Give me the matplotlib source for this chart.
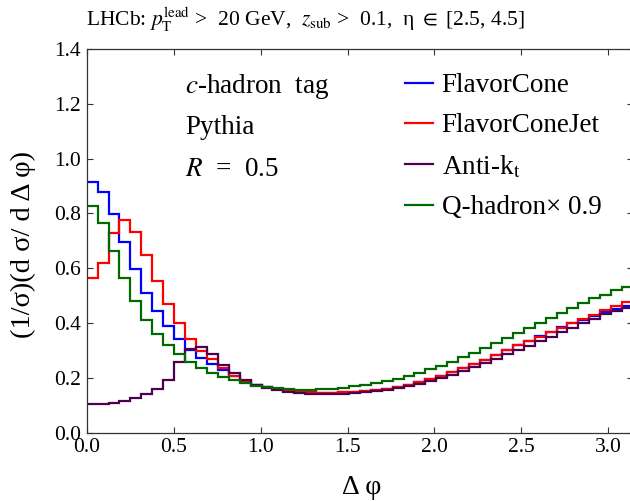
import numpy as np
import matplotlib
matplotlib.use("Agg")
import matplotlib.pyplot as plt

# 50 bins in delta phi from 0 to pi
n_bins = 50
edges = np.linspace(0, np.pi, n_bins + 1)

flavor_cone = [0.915, 0.879, 0.799, 0.697, 0.597, 0.509, 0.442, 0.388, 0.341, 0.302,
               0.272, 0.249, 0.227, 0.206, 0.188, 0.175, 0.165, 0.159, 0.153, 0.149,
               0.146, 0.145, 0.145, 0.146, 0.148, 0.151, 0.155, 0.160, 0.166, 0.175,
               0.185, 0.196, 0.208, 0.221, 0.235, 0.250, 0.266, 0.284, 0.302, 0.319,
               0.335, 0.351, 0.368, 0.384, 0.398, 0.412, 0.426, 0.440, 0.452, 0.463]

flavor_cone_jet = [0.563, 0.620, 0.727, 0.776, 0.732, 0.648, 0.554, 0.469, 0.400, 0.340,
                   0.298, 0.268, 0.234, 0.208, 0.188, 0.175, 0.166, 0.159, 0.153, 0.149,
                   0.146, 0.145, 0.145, 0.146, 0.148, 0.151, 0.155, 0.160, 0.166, 0.174,
                   0.184, 0.195, 0.207, 0.220, 0.234, 0.249, 0.266, 0.284, 0.301, 0.319,
                   0.334, 0.350, 0.367, 0.383, 0.398, 0.413, 0.430, 0.446, 0.462, 0.477]

anti_kt = [0.103, 0.105, 0.109, 0.116, 0.126, 0.140, 0.160, 0.193, 0.258, 0.304,
           0.313, 0.288, 0.248, 0.217, 0.190, 0.175, 0.164, 0.155, 0.148, 0.144,
           0.141, 0.140, 0.140, 0.141, 0.143, 0.146, 0.150, 0.155, 0.161, 0.168,
           0.177, 0.187, 0.198, 0.211, 0.225, 0.240, 0.255, 0.270, 0.286, 0.301,
           0.317, 0.334, 0.350, 0.368, 0.383, 0.398, 0.414, 0.431, 0.443, 0.456]

q_hadron = [0.827, 0.763, 0.664, 0.563, 0.481, 0.411, 0.359, 0.321, 0.288, 0.259,
            0.234, 0.218, 0.203, 0.191, 0.180, 0.171, 0.165, 0.163, 0.159, 0.156,
            0.156, 0.157, 0.160, 0.164, 0.168, 0.175, 0.182, 0.189, 0.196, 0.205,
            0.217, 0.230, 0.244, 0.259, 0.275, 0.291, 0.308, 0.325, 0.344, 0.362,
            0.380, 0.398, 0.417, 0.435, 0.453, 0.471, 0.490, 0.502, 0.520, 0.532]

labels = ["FlavorCone", "FlavorConeJet", "Anti-k$_{\\mathrm{t}}$", "Q-hadron× 0.9"]
colors = ["#0000ff", "#ff0000", "#4d0050", "#006a00"]

plt.rcParams['font.family'] = ['Liberation Serif', 'DejaVu Serif']
plt.rcParams['mathtext.fontset'] = 'stix'

W, H = 630, 501
fig = plt.figure(figsize=(W / 100, H / 100), dpi=100)

# axes box in pixels: left 86.7, right 633 (slightly past the edge), top 48.9, bottom 432.5
ax = fig.add_axes([86.7 / W, (H - 432.5) / H, (633 - 86.7) / W, (432.5 - 48.9) / H])

for series, lab, col in zip([flavor_cone, flavor_cone_jet, anti_kt, q_hadron], labels, colors):
    ax.stairs(series, edges, baseline=None, color=col, lw=1.6, label=lab)

ax.set_xlim(0, np.pi)
ax.set_ylim(0, 1.4)
ax.set_xticks(np.arange(0, 3.01, 0.5))
ax.set_yticks(np.arange(0, 1.41, 0.2))
ax.set_xticklabels([f"{v:.1f}" for v in np.arange(0, 3.01, 0.5)])
ax.set_yticklabels([f"{v:.1f}" for v in np.arange(0, 1.41, 0.2)])
ax.tick_params(direction='in', top=True, right=True, length=4, width=0.8,
               labelsize=15.5, color='#333333')
ax.tick_params(axis='x', pad=4)
ax.tick_params(axis='y', pad=4)
for s in ax.spines.values():
    s.set_linewidth(0.9)
    s.set_color('#333333')

ax.legend(loc='upper left', bbox_to_anchor=(405 / W, 1 - 73 / H),
          bbox_transform=fig.transFigure, frameon=False, fontsize=19.5,
          handlelength=1.03, handletextpad=0.32, labelspacing=0.56,
          borderpad=0, borderaxespad=0)

fig.text(185 / W, 1 - 93 / H, "$c$-hadron  tag", fontsize=19.5, va='baseline')
fig.text(185 / W, 1 - 134 / H, "Pythia", fontsize=19.5, va='baseline')
fig.text(185 / W, 1 - 176 / H, "$R$  =  0.5", fontsize=19.5, va='baseline')

fig.text(86 / W, 1 - 26 / H,
         "LHCb: $p_{\\mathrm{T}}^{\\mathrm{lead}}$ >  20 GeV,  $z_{\\mathrm{sub}}$ >  0.1,  η $\\in$ [2.5, 4.5]",
         fontsize=15.5, va='baseline')

fig.text(23 / W, 1 - 244 / H, "(1/σ)(d σ/ d Δ φ)", fontsize=20.5, rotation=90,
         ha='center', va='center')
fig.text(362 / W, 1 - 487 / H, "Δ φ", fontsize=20, ha='center', va='center')

fig.savefig("out.png", dpi=100)
